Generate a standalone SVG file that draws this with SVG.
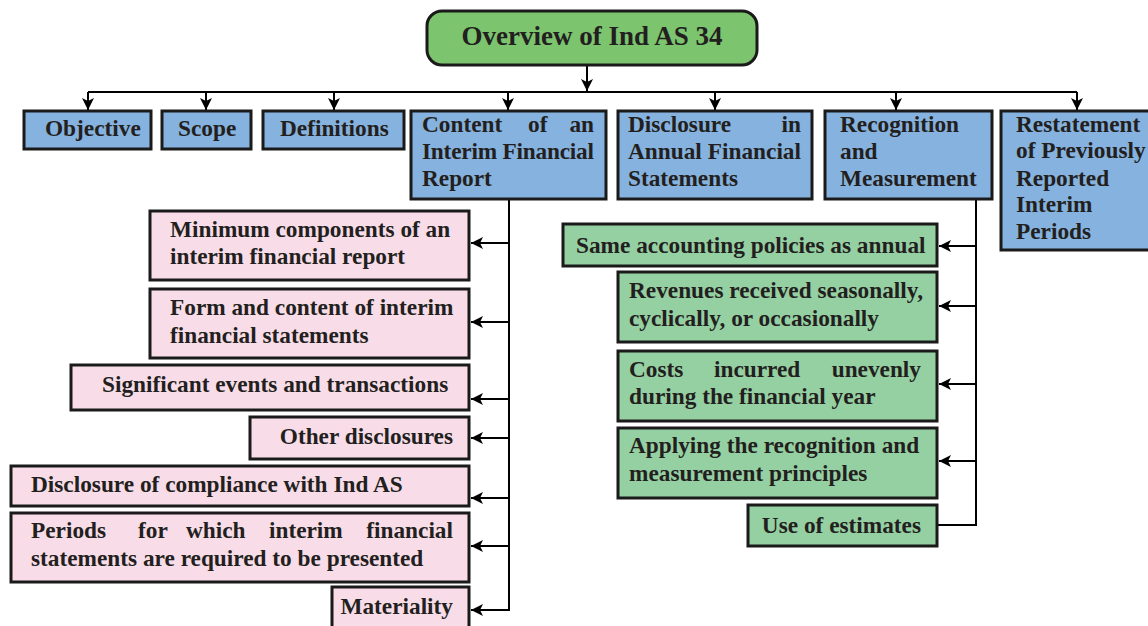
<svg xmlns="http://www.w3.org/2000/svg" width="1148" height="626" viewBox="0 0 1148 626">
<defs>
<marker id="ah" markerUnits="userSpaceOnUse" markerWidth="12" markerHeight="12" refX="12" refY="6" orient="auto" viewBox="0 0 12 12">
<path d="M0,0 L12,6 L0,12 L3,6 Z" fill="#000"/>
</marker>
<style>
.t{font-family:"Liberation Serif","Times New Roman",serif;font-weight:bold;font-size:23.3px;fill:#231f20}
.title{font-size:27px}
.blue{fill:#85b2de;stroke:#1a1a1a;stroke-width:3}
.pink{fill:#f8dde8;stroke:#1a1a1a;stroke-width:3}
.mint{fill:#95d0a2;stroke:#1a1a1a;stroke-width:3}
.hdr{fill:#7cc46e;stroke:#1a1a1a;stroke-width:3}
.c{fill:none;stroke:#000;stroke-width:2}
.a{fill:none;stroke:#000;stroke-width:2;marker-end:url(#ah)}
.e{text-anchor:end}
.m{text-anchor:middle}
</style>
</defs>
<rect width="1148" height="626" fill="#fff"/>

<g id="connectors">
<path class="a" d="M587,65 V91"/>
<path class="c" d="M88,92 H1077"/>
<path class="a" d="M88,92 V110"/>
<path class="a" d="M206,92 V110"/>
<path class="a" d="M334,92 V110"/>
<path class="a" d="M508,92 V110"/>
<path class="a" d="M715,92 V110"/>
<path class="a" d="M896,92 V110"/>
<path class="a" d="M1077,92 V110"/>
<path class="c" d="M509,199 V610"/>
<path class="a" d="M509,243 H471"/>
<path class="a" d="M509,322 H471"/>
<path class="a" d="M509,399 H471"/>
<path class="a" d="M509,438 H471"/>
<path class="a" d="M509,498 H471"/>
<path class="a" d="M509,546 H471"/>
<path class="a" d="M510,610 H471"/>
<path class="c" d="M976,199 V525 H938"/>
<path class="a" d="M976,246 H939"/>
<path class="a" d="M976,306 H939"/>
<path class="a" d="M976,384 H939"/>
<path class="a" d="M976,461 H939"/>
</g>

<g id="title">
<rect class="hdr" x="427" y="11" width="330" height="54" rx="15"/>
<text class="t title m" x="592" y="45">Overview of Ind AS 34</text>
</g>

<g id="objective">
<rect class="blue" x="24" y="111" width="127" height="38"/>
<text class="t" x="45" y="136">Objective</text>
</g>
<g id="scope">
<rect class="blue" x="162" y="111" width="89" height="38"/>
<text class="t" x="178" y="136">Scope</text>
</g>
<g id="definitions">
<rect class="blue" x="263" y="111" width="141" height="38"/>
<text class="t" x="280" y="136">Definitions</text>
</g>
<g id="content">
<rect class="blue" x="411" y="111" width="195" height="88"/>
<text class="t" x="422" y="132">Content</text>
<text class="t" x="528" y="132">of</text>
<text class="t e" x="594" y="132">an</text>
<text class="t" x="422" y="159" textLength="172" lengthAdjust="spacing">Interim Financial</text>
<text class="t" x="422" y="186">Report</text>
</g>
<g id="disclosure-annual">
<rect class="blue" x="618" y="111" width="194" height="88"/>
<text class="t" x="628" y="132">Disclosure</text>
<text class="t e" x="801" y="132">in</text>
<text class="t" x="628" y="159">Annual</text>
<text class="t e" x="801" y="159">Financial</text>
<text class="t" x="628" y="186">Statements</text>
</g>
<g id="recognition">
<rect class="blue" x="825" y="111" width="167" height="88"/>
<text class="t" x="840" y="132">Recognition</text>
<text class="t" x="840" y="159">and</text>
<text class="t" x="840" y="186">Measurement</text>
</g>
<g id="restatement">
<rect class="blue" x="1001" y="111" width="152" height="139"/>
<text class="t" x="1016" y="132">Restatement</text>
<text class="t" x="1016" y="158">of Previously</text>
<text class="t" x="1016" y="186">Reported</text>
<text class="t" x="1016" y="212">Interim</text>
<text class="t" x="1016" y="239">Periods</text>
</g>

<g id="minimum-components">
<rect class="pink" x="150" y="211" width="319" height="69"/>
<text class="t" x="170" y="237">Minimum components of an</text>
<text class="t" x="170" y="264">interim financial report</text>
</g>
<g id="form-content">
<rect class="pink" x="150" y="289" width="319" height="69"/>
<text class="t" x="170" y="315">Form and content of interim</text>
<text class="t" x="170" y="343">financial statements</text>
</g>
<g id="significant-events">
<rect class="pink" x="71" y="365" width="398" height="45"/>
<text class="t" x="102" y="392">Significant events and transactions</text>
</g>
<g id="other-disclosures">
<rect class="pink" x="250" y="417" width="219" height="42"/>
<text class="t e" x="453" y="444">Other disclosures</text>
</g>
<g id="disclosure-compliance">
<rect class="pink" x="11" y="466" width="458" height="40"/>
<text class="t" x="31" y="492">Disclosure of compliance with Ind AS</text>
</g>
<g id="periods">
<rect class="pink" x="11" y="513" width="458" height="69"/>
<text class="t" x="31" y="538">Periods</text>
<text class="t" x="138" y="538">for</text>
<text class="t" x="186" y="538">which</text>
<text class="t" x="269" y="538">interim</text>
<text class="t e" x="453" y="538">financial</text>
<text class="t" x="31" y="566">statements are required to be presented</text>
</g>
<g id="materiality">
<rect class="pink" x="332" y="587" width="137" height="50"/>
<text class="t e" x="453" y="614">Materiality</text>
</g>

<g id="same-policies">
<rect class="mint" x="563" y="224" width="374" height="42"/>
<text class="t" x="576" y="253">Same accounting policies as annual</text>
</g>
<g id="revenues">
<rect class="mint" x="618" y="272" width="319" height="70"/>
<text class="t" x="629" y="298">Revenues received seasonally,</text>
<text class="t" x="629" y="326">cyclically, or occasionally</text>
</g>
<g id="costs">
<rect class="mint" x="618" y="351" width="319" height="70"/>
<text class="t" x="629" y="377">Costs</text>
<text class="t" x="714" y="377">incurred</text>
<text class="t e" x="921" y="377">unevenly</text>
<text class="t" x="629" y="404">during the financial year</text>
</g>
<g id="applying">
<rect class="mint" x="618" y="428" width="319" height="70"/>
<text class="t" x="629" y="453">Applying the recognition and</text>
<text class="t" x="629" y="481">measurement principles</text>
</g>
<g id="estimates">
<rect class="mint" x="748" y="505" width="189" height="41"/>
<text class="t e" x="921" y="533">Use of estimates</text>
</g>
</svg>
